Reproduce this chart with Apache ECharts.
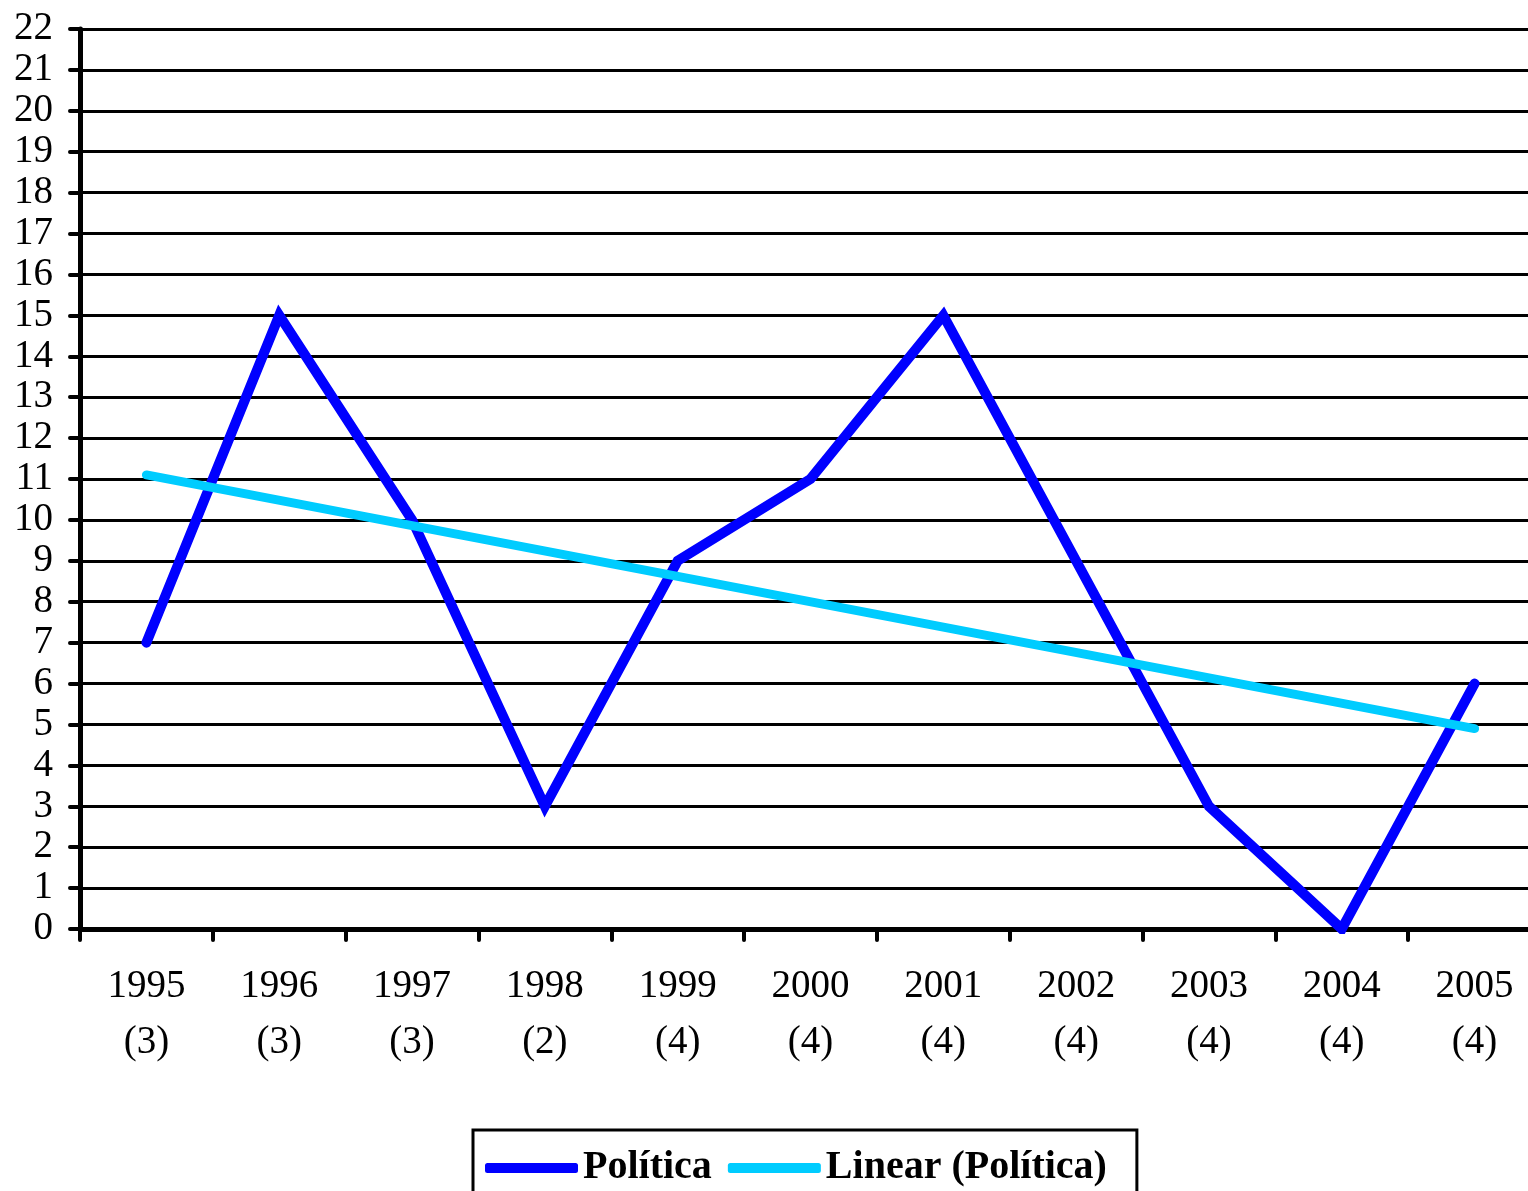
<!DOCTYPE html>
<html>
<head>
<meta charset="utf-8">
<script src="https://cdn.jsdelivr.net/npm/echarts@6/dist/echarts.min.js"></script>
<style>
html,body{margin:0;padding:0;background:#fff;overflow:hidden;width:1528px;height:1191px;}
#chart{width:1545px;height:1191px;}
</style>
</head>
<body>
<div id="chart"></div>
<script>
var years = ['1995','1996','1997','1998','1999','2000','2001','2002','2003','2004','2005'];
var counts = ['3','3','3','2','4','4','4','4','4','4','4'];
var politica = [7, 15, 10, 3, 9, 11, 15, 9, 3, 0, 6];
// trend line endpoints (1995 and 2005)
var trendStart = 11.1;
var trendEnd = 4.9;
var seriesNames = ['Política', 'Linear (Política)'];

var categories = years.map(function (y, i) { return y + '\n(' + counts[i] + ')'; });
var trend = years.map(function (y, i) {
  if (i === 0) return trendStart;
  if (i === years.length - 1) return trendEnd;
  return null;
});

var chart = echarts.init(document.getElementById('chart'), null, {renderer: 'canvas'});
var font = '"Liberation Serif", "Times New Roman", serif';
chart.setOption({
  animation: false,
  backgroundColor: '#ffffff',
  grid: {left: 80, top: 29, right: 4, bottom: 262, containLabel: false},
  xAxis: {
    type: 'category',
    data: categories,
    boundaryGap: true,
    axisLine: {lineStyle: {color: '#000', width: 5}},
    axisTick: {show: true, length: 11, lineStyle: {color: '#000', width: 4, cap: 'round'}},
    axisLabel: {color: '#000', fontFamily: font, fontSize: 39, lineHeight: 56, margin: 30, interval: 0}
  },
  yAxis: {
    type: 'value',
    min: 0, max: 22, interval: 1,
    axisLine: {show: true, lineStyle: {color: '#000', width: 5}},
    axisTick: {show: true, length: 10, lineStyle: {color: '#000', width: 4, cap: 'round'}},
    axisLabel: {color: '#000', fontFamily: font, fontSize: 39, margin: 27},
    splitLine: {show: true, lineStyle: {color: '#000', width: 3}}
  },
  legend: {
    left: 473, top: 1130,
    data: [
      {name: seriesNames[0], icon: 'roundRect'},
      {name: seriesNames[1], icon: 'roundRect'}
    ],
    itemWidth: 93, itemHeight: 10, itemGap: 16,
    padding: [18, 30, 15, 12],
    borderColor: '#000', borderWidth: 3, borderRadius: 0,
    textStyle: {color: '#000', fontFamily: font, fontSize: 40, fontWeight: 'bold'}
  },
  series: [
    {
      name: seriesNames[0], type: 'line', data: politica,
      symbol: 'none', showSymbol: false,
      lineStyle: {color: '#0000ff', width: 10, cap: 'round', join: 'miter'},
      itemStyle: {color: '#0000ff'},
      z: 3
    },
    {
      name: seriesNames[1], type: 'line', data: trend, connectNulls: true,
      symbol: 'none', showSymbol: false,
      lineStyle: {color: '#00ccff', width: 9, cap: 'round'},
      itemStyle: {color: '#00ccff'},
      z: 4
    }
  ]
});
</script>
</body>
</html>
